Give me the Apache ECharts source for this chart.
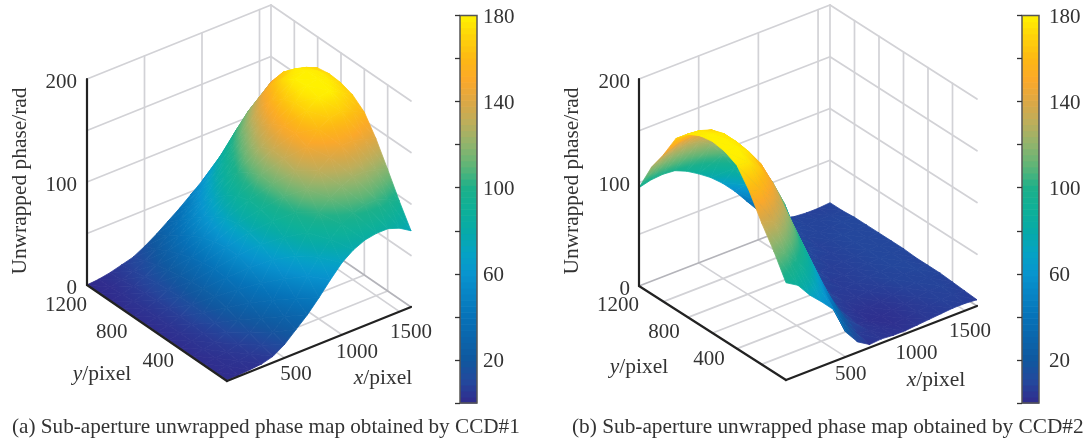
<!DOCTYPE html>
<html><head><meta charset="utf-8">
<style>html,body{margin:0;padding:0;background:#fff}#c{width:1084px;height:440px}</style>
<script src="https://cdn.jsdelivr.net/npm/echarts@6/dist/echarts.min.js"></script>
</head><body><div id="c"></div>
<script>
// ---- data ----
const xSamples = [0,100,200,300,400,500,600,700,800,900,1000,1100,1200,1300,1400,1500,1600];
const ySamples = [0,100,200,300,400,500,600,700,800,900,1000,1100,1200];
const xTicks = [500,1000,1500];
const yTicks = [400,800,1200];
const zTicks = [0,100,200];
const xGridValues = [500,1000,1500];
const yGridValues = [200,400,600,800,1000];
const zGridValues = [50,100,150,200];
const colorbarTicks = [20,60,100,140,180];
// rows follow ySamples, columns follow xSamples
const phaseCCD1 = [
[1,1,2,3,6,13,23,33,45,58,70,78,83,85,85,81,74],
[1,2,3,5,9,17,28,41,58,72,85,95,102,105,105,101,95],
[1,2,4,7,13,23,36,52,70,88,103,113,120,125,125,122,118],
[1,3,5,10,18,30,45,63,80,100,118,132,140,147,147,144,140],
[1,3,6,12,22,35,52,70,88,108,128,147,160,166,168,163,158],
[1,3,7,14,25,39,56,74,92,112,132,152,170,178,180,174,167],
[1,3,7,14,25,40,56,75,93,113,133,151,170,182,184,178,171],
[1,3,7,14,24,38,54,72,89,108,128,146,165,180,184,179,172],
[1,3,7,13,22,35,50,66,82,100,118,136,156,173,178,175,170],
[1,3,6,12,20,31,44,58,72,88,105,122,142,160,167,165,162],
[0,2,5,10,17,26,37,49,61,75,91,107,124,140,150,151,150],
[0,1,4,8,13,20,29,39,49,61,74,90,105,118,127,131,132],
[0,1,3,6,9,15,22,30,38,47,56,65,76,88,98,106,112]];
const phaseCCD2 = [
[94,87,73,62,50,24,10,3,4,3,3,4,5,6,7,7,6],
[117,110,97,82,64,40,20,6,4,3,2,3,5,6,8,8,7],
[137,134,122,105,83,58,32,13,4,2,2,3,5,7,8,9,8],
[160,157,145,128,102,74,44,19,6,3,3,4,6,8,9,9,9],
[177,176,165,146,118,88,55,26,8,5,5,6,7,9,9,10,9],
[183,183,174,158,135,110,72,38,14,6,6,7,8,9,10,10,9],
[185,183,176,161,143,124,90,52,23,9,6,7,8,9,10,10,10],
[183,180,176,163,149,130,100,68,38,15,8,7,8,9,10,10,10],
[177,176,172,163,151,137,113,84,54,26,11,8,8,9,10,10,10],
[165,165,163,158,150,140,122,96,68,38,17,10,8,9,10,10,10],
[142,148,151,151,148,138,122,100,76,50,27,13,9,9,9,10,10],
[122,126,130,131,129,122,108,90,70,49,30,16,10,9,9,9,9],
[95,98,99,98,93,86,78,68,56,42,28,18,12,9,8,8,9]];
// ---- styles / layout ----
const cmap = [[0,'#312a8c'],[10,'#24479c'],[20,'#10589f'],[40,'#0672b8'],[60,'#0894cf'],[70,'#05a3c4'],[80,'#07aaa8'],[90,'#0eb098'],[100,'#1cb08a'],[110,'#5db577'],[120,'#8fb46d'],[130,'#bbae5c'],[140,'#dba845'],[150,'#fba82a'],[160,'#fdb814'],[170,'#fed20a'],[180,'#fff100']];
const FONT = '"Liberation Serif","Times New Roman",serif';
const TXT = '#333';
const panels = [
 {origin:[227,381],xVec:[184,-74],yVec:[-140,-96],zVec:[0,-206],z:phaseCCD1,
  xShift:[[11.5,17],[15,18],[11.5,21]],yShift:[[-22,12],[-22,15],[-21,20]],zShift:[-10,3],
  xName:[383,378],yName:[102,374],zName:[20,181]},
 {origin:[786,380],xVec:[191,-74],yVec:[-147,-94],zVec:[0,-207],z:phaseCCD2,
  xShift:[[5,18],[11,20],[5,21]],yShift:[[-28,11],[-24,15],[-21,19]],zShift:[-9,3],
  xName:[936,380],yName:[639,367],zName:[572,181]}
];
const XMAX=1600,YMAX=1200,ZMAX=200,CMAX=180;
function project(p,x,y,z){return [p.origin[0]+x/XMAX*p.xVec[0]+y/YMAX*p.yVec[0], p.origin[1]+x/XMAX*p.xVec[1]+y/YMAX*p.yVec[1]+z/ZMAX*p.zVec[1]];}
function hex(c){return [1,3,5].map(k=>parseInt(c.substr(k,2),16));}
function colorAt(v){
  v=Math.max(0,Math.min(CMAX,v));
  for(let k=1;k<cmap.length;k++){ if(v<=cmap[k][0]){
    const a=cmap[k-1],b=cmap[k],t=(v-a[0])/(b[0]-a[0]),A=hex(a[1]),B=hex(b[1]);
    return 'rgb('+A.map((q,n)=>Math.round(q+(B[n]-q)*t)).join(',')+')';}}
  return cmap[cmap.length-1][1];
}
function triFill(P,V){
  const ax=P[1][0]-P[0][0],ay=P[1][1]-P[0][1],bx=P[2][0]-P[0][0],by=P[2][1]-P[0][1];
  const det=ax*by-ay*bx,dv1=V[1]-V[0],dv2=V[2]-V[0];
  const vmin=Math.min(...V),vmax=Math.max(...V);
  if(Math.abs(det)<0.5||vmax-vmin<0.5) return colorAt((V[0]+V[1]+V[2])/3);
  const gx=(dv1*by-dv2*ay)/det,gy=(dv2*ax-dv1*bx)/det,g2=gx*gx+gy*gy;
  const s0=(vmin-V[0])/g2,s1=(vmax-V[0])/g2;
  const n=Math.max(1,Math.min(12,Math.ceil((vmax-vmin)/6))),stops=[];
  for(let k=0;k<=n;k++) stops.push({offset:k/n,color:colorAt(vmin+(vmax-vmin)*k/n)});
  return new echarts.graphic.LinearGradient(P[0][0]+gx*s0,P[0][1]+gy*s0,P[0][0]+gx*s1,P[0][1]+gy*s1,stops,true);
}
// back-to-front triangle list of the mesh
function meshItems(){
  const out=[];
  for(let i=xSamples.length-2;i>=0;i--) for(let j=ySamples.length-2;j>=0;j--){
    out.push([i,j,0]); out.push([i,j,1]);
  }
  return out;
}
function surfaceSeries(p){
  return {type:'custom',coordinateSystem:'cartesian2d',xAxisIndex:0,yAxisIndex:0,z:5,clip:false,silent:true,progressive:0,
    data:meshItems(),
    renderItem(params,api){
      const i=api.value(0),j=api.value(1),t=api.value(2);
      const c=t===0?[[i+1,j+1],[i+1,j],[i,j+1]]:[[i+1,j],[i,j],[i,j+1]];
      const V=c.map(q=>p.z[q[1]][q[0]]);
      const P=c.map((q,n)=>api.coord(project(p,xSamples[q[0]],ySamples[q[1]],V[n])));
      const f=triFill(P,V);
      return {type:'polygon',shape:{points:P},style:{fill:f,stroke:f,lineWidth:0.8}};
    }};
}
function segmentSeries(p,segs,color,width,z){
  return {type:'custom',coordinateSystem:'cartesian2d',xAxisIndex:0,yAxisIndex:0,z:z,clip:false,silent:true,progressive:0,
    data:segs,
    renderItem(params,api){
      const k=params.dataIndex,s=segs[k];
      const a=api.coord(project(p,s[0],s[1],s[2])),b=api.coord(project(p,s[3],s[4],s[5]));
      return {type:'line',shape:{x1:a[0],y1:a[1],x2:b[0],y2:b[1]},style:{stroke:color,lineWidth:width,lineCap:'round'}};
    }};
}
function wallSegments(){
  const s=[];
  xGridValues.forEach(x=>{s.push([x,YMAX,0,x,YMAX,ZMAX]);s.push([x,0,0,x,YMAX,0]);});
  yGridValues.forEach(y=>{s.push([XMAX,y,0,XMAX,y,ZMAX]);s.push([0,y,0,XMAX,y,0]);});
  s.push([XMAX,YMAX,0,XMAX,YMAX,ZMAX]);
  zGridValues.forEach(z=>{s.push([0,YMAX,z,XMAX,YMAX,z]);s.push([XMAX,YMAX,z,XMAX,0,z]);});
  return s;
}
const floorEdges=[[XMAX,YMAX,0,XMAX,0,0],[0,YMAX,0,XMAX,YMAX,0]];
const axisSegments=[[0,YMAX,0,0,YMAX,ZMAX],[0,YMAX,0,0,0,0],[0,0,0,XMAX,0,0]];
function textEl(pt,text,extra){
  return Object.assign({type:'text',x:pt[0],y:pt[1],style:Object.assign({text:text,fill:TXT,font:'21px '+FONT,align:'center',verticalAlign:'middle'},extra&&extra.style)},extra&&extra.el);
}
function labelSeries(p){
  const items=[];
  xTicks.forEach((t,k)=>items.push({at:[t,0,0],d:p.xShift[k],s:String(t)}));
  yTicks.forEach((t,k)=>items.push({at:[0,t,0],d:p.yShift[k],s:String(t)}));
  zTicks.forEach(t=>items.push({at:[0,YMAX,t],d:p.zShift,s:String(t),right:true}));
  return {type:'custom',coordinateSystem:'cartesian2d',xAxisIndex:0,yAxisIndex:0,z:8,clip:false,silent:true,progressive:0,
    data:items.map((_,k)=>[k]).concat([[items.length]]),
    renderItem(params,api){
      const k=params.dataIndex;
      if(k===items.length){
        const rich={i:{font:'italic 21.5px '+FONT,fill:TXT},n:{font:'21.5px '+FONT,fill:TXT}};
        return {type:'group',children:[
          textEl(api.coord(p.xName),'{i|x}{n|/pixel}',{style:{rich:rich}}),
          textEl(api.coord(p.yName),'{i|y}{n|/pixel}',{style:{rich:rich}}),
          textEl(api.coord(p.zName),'Unwrapped phase/rad',{el:{rotation:Math.PI/2},style:{font:'21.4px '+FONT}})
        ]};
      }
      const it=items[k],q=api.coord(project(p,it.at[0],it.at[1],it.at[2]));
      return textEl([q[0]+it.d[0],q[1]+it.d[1]],it.s,{style:it.right?{align:'right'}:{}});
    }};
}
// colorbars: one hidden-x cartesian grid per bar
const cbLevels=[];for(let v=0;v<CMAX;v+=180/64)cbLevels.push(v);
function colorbarSeries(idx){
  return [{type:'custom',xAxisIndex:idx,yAxisIndex:idx,coordinateSystem:'cartesian2d',z:3,silent:true,progressive:0,
    data:cbLevels.map(v=>[0,v]),
    renderItem(params,api){
      const v=api.value(1),a=api.coord([0,v]),b=api.coord([1,Math.min(CMAX,v+180/64)]);
      return {type:'rect',shape:{x:a[0],y:b[1],width:b[0]-a[0],height:a[1]-b[1]+0.6},style:{fill:colorAt(v+90/64)}};
    }},
   {type:'custom',xAxisIndex:idx,yAxisIndex:idx,coordinateSystem:'cartesian2d',z:4,silent:true,clip:false,
    data:[[0,0]],
    renderItem(params,api){
      const a=api.coord([0,0]),b=api.coord([1,CMAX]);
      return {type:'rect',shape:{x:a[0],y:b[1],width:b[0]-a[0],height:a[1]-b[1]},style:{fill:'none',stroke:'#555',lineWidth:1.5}};
    }}];
}
const colorbarAxis=(i,m)=>({gridIndex:i,type:'value',min:0,max:CMAX,interval:20,position:'right',z:6,
  axisLine:{show:false},splitLine:{show:false},
  axisTick:{show:true,inside:true,length:5,lineStyle:{color:'#333',width:1.3}},
  axisLabel:{show:true,margin:m,color:TXT,customValues:colorbarTicks,
    formatter:v=>'{t|'+v+'}',
    rich:{t:{fontFamily:FONT,fontSize:21,color:TXT,padding:[4,0,0,0]}}}});
const hiddenX=i=>({gridIndex:i,type:'value',min:0,max:1,show:false});
const option={
  animation:false,backgroundColor:'#fff',
  title:[
    {text:'(a) Sub-aperture unwrapped phase map obtained by CCD#1',left:12,top:417,padding:0,textStyle:{fontFamily:FONT,fontSize:21.2,fontWeight:'normal',color:TXT}},
    {text:'(b) Sub-aperture unwrapped phase map obtained by CCD#2',left:572,top:417,padding:0,textStyle:{fontFamily:FONT,fontSize:21.3,fontWeight:'normal',color:TXT}}
  ],
  grid:[
    {left:0,top:0,width:1084,height:440},
    {left:460,top:15.5,width:17,height:387.5},
    {left:1022,top:15.5,width:17,height:387.5}
  ],
  xAxis:[{gridIndex:0,type:'value',min:0,max:1084,show:false},hiddenX(1),hiddenX(2)],
  yAxis:[{gridIndex:0,type:'value',min:0,max:440,inverse:true,show:false},colorbarAxis(1,6),colorbarAxis(2,10)],
  series:[]
};
panels.forEach(p=>{
  option.series.push(segmentSeries(p,wallSegments(),'#d2d2d6',1.7,2));
  option.series.push(segmentSeries(p,floorEdges,'#b4b4ba',1.7,3));
  option.series.push(surfaceSeries(p));
  option.series.push(segmentSeries(p,axisSegments,'#222',2.2,7));
  option.series.push(labelSeries(p));
});
option.series.push(...colorbarSeries(1),...colorbarSeries(2));
const chart=echarts.init(document.getElementById('c'),null,{renderer:'canvas'});
chart.setOption(option);
</script></body></html>
